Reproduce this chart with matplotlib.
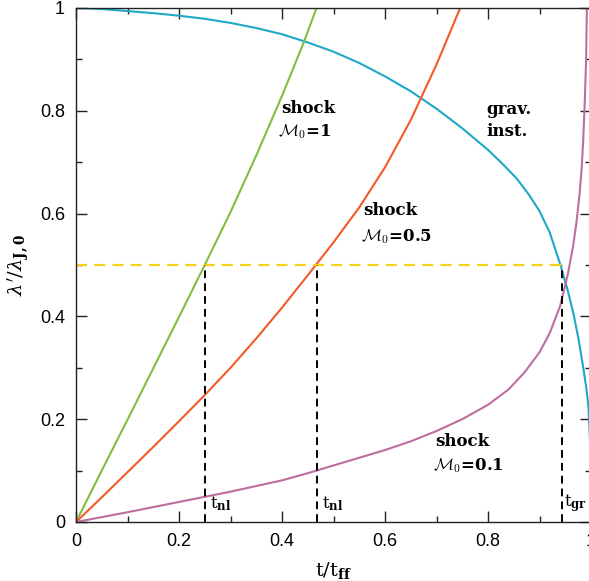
import matplotlib
matplotlib.use("Agg")
import matplotlib.pyplot as plt
from matplotlib.ticker import MultipleLocator, FuncFormatter

# Gravitational instability: lambda'/lambda_J,0 versus t/t_ff
t_grav = [0.0, 0.05, 0.1, 0.15, 0.2, 0.25, 0.3, 0.35, 0.4, 0.45, 0.5, 0.55,
          0.6, 0.65, 0.7, 0.75, 0.8, 0.83, 0.856, 0.88, 0.9, 0.92, 0.94,
          0.955, 0.966, 0.976, 0.985, 0.991, 0.995, 0.998, 1.0]
lam_grav = [1.0, 0.998, 0.994, 0.99, 0.985, 0.979, 0.971, 0.961, 0.949, 0.933,
            0.915, 0.893, 0.867, 0.838, 0.804, 0.766, 0.724, 0.695, 0.668,
            0.636, 0.605, 0.563, 0.502, 0.45, 0.405, 0.355, 0.30, 0.26,
            0.225, 0.16, 0.0]

# Shock-compressed layers for three upstream Mach numbers
t_m1 = [0.0, 0.05, 0.1, 0.15, 0.2, 0.25, 0.3, 0.35, 0.4, 0.443, 0.467]
lam_m1 = [0.0, 0.1, 0.199, 0.299, 0.399, 0.5, 0.603, 0.713, 0.829, 0.935, 1.0]

t_m05 = [0.0, 0.05, 0.1, 0.15, 0.2, 0.25, 0.3, 0.35, 0.4, 0.45, 0.5, 0.55,
         0.6, 0.65, 0.7, 0.746]
lam_m05 = [0.0, 0.048, 0.097, 0.146, 0.196, 0.247, 0.300, 0.357, 0.417, 0.48,
           0.544, 0.612, 0.69, 0.782, 0.89, 1.0]

t_m01 = [0.0, 0.05, 0.1, 0.15, 0.2, 0.25, 0.3, 0.35, 0.4, 0.45, 0.5, 0.55,
         0.6, 0.65, 0.7, 0.75, 0.8, 0.84, 0.87, 0.9, 0.92, 0.94, 0.955,
         0.965, 0.972, 0.978, 0.982, 0.985, 0.988, 0.9905, 0.992]
lam_m01 = [0.0, 0.0095, 0.019, 0.029, 0.039, 0.049, 0.059, 0.070, 0.081,
           0.095, 0.11, 0.125, 0.14, 0.157, 0.177, 0.20, 0.228, 0.258, 0.29,
           0.33, 0.368, 0.42, 0.482, 0.535, 0.585, 0.64, 0.69, 0.745, 0.82,
           0.9, 1.0]

# Threshold and the times at which each curve crosses it
lam_half = 0.5
t_nl = [0.25, 0.467]
t_gr = 0.943

x_ticks = [0, 0.2, 0.4, 0.6, 0.8, 1]
y_ticks = [0, 0.2, 0.4, 0.6, 0.8, 1]

c_green = "#7fbf3f"
c_orange = "#f25a26"
c_cyan = "#1ea8c8"
c_purple = "#bf6d9e"
c_yellow = "#f6d21a"

fig = plt.figure(figsize=(5.89, 5.81), dpi=100)
ax = fig.add_axes([76 / 589, 1 - 522 / 581, 515 / 589, 514 / 581])

lw = 1.5
ax.plot(t_grav, lam_grav, color=c_cyan, lw=lw)
ax.plot(t_m1, lam_m1, color=c_green, lw=lw)
ax.plot(t_m05, lam_m05, color=c_orange, lw=lw)
ax.plot(t_m01, lam_m01, color=c_purple, lw=lw)

ax.plot([0, t_gr], [lam_half, lam_half], color=c_yellow, lw=1.6,
        dashes=(5, 3.2))
for tv in t_nl + [t_gr]:
    ax.plot([tv, tv], [0, lam_half], color="black", lw=1.4, dashes=(4, 2.6))

ax.set_xlim(0, 1)
ax.set_ylim(0, 1)
ax.set_xticks(x_ticks)
ax.set_yticks(y_ticks)
ax.xaxis.set_minor_locator(MultipleLocator(0.1))
ax.yaxis.set_minor_locator(MultipleLocator(0.1))
fmt = FuncFormatter(lambda v, p: f"{v:g}")
ax.xaxis.set_major_formatter(fmt)
ax.yaxis.set_major_formatter(fmt)
ax.tick_params(which="both", direction="in", top=True, right=True,
               width=1.0, color="#222222")
ax.tick_params(which="major", length=8, pad=8)
ax.tick_params(which="minor", length=4.5)
for lab in ax.get_xticklabels() + ax.get_yticklabels():
    lab.set_family("Liberation Sans")
    lab.set_fontsize(13)
for sp in ax.spines.values():
    sp.set_linewidth(1.0)
    sp.set_color("#222222")

serif = "DejaVu Serif"
ax.set_xlabel(r"t/t$_{\mathbf{ff}}$", family=serif, fontsize=14, labelpad=7,
              math_fontfamily="dejavuserif")
ax.set_ylabel(r"$\lambda'/\lambda_{\mathbf{J,0}}$", fontsize=14, labelpad=6,
              math_fontfamily="dejavuserif")

def note(x, y, s, size=12):
    ax.text(x, y, s, family=serif, fontsize=size, fontweight="bold",
            ha="left", va="baseline", math_fontfamily="cm")

note(0.398, 0.795, "shock")
note(0.392, 0.750, r"$\mathcal{M}_0$=1")
note(0.558, 0.597, "shock")
note(0.553, 0.547, r"$\mathcal{M}_0$=0.5")
note(0.797, 0.793, "grav.")
note(0.797, 0.750, "inst.")
note(0.698, 0.148, "shock")
note(0.693, 0.100, r"$\mathcal{M}_0$=0.1")

for tv in t_nl:
    ax.text(tv + 0.01, 0.026, r"t$_{\mathbf{nl}}$", family=serif, fontsize=12,
            ha="left", va="baseline", math_fontfamily="dejavuserif")
ax.text(t_gr + 0.004, 0.03, r"t$_{\mathbf{gr}}$", family=serif, fontsize=12,
        ha="left", va="baseline", math_fontfamily="dejavuserif")

fig.savefig("out.png", dpi=100)
